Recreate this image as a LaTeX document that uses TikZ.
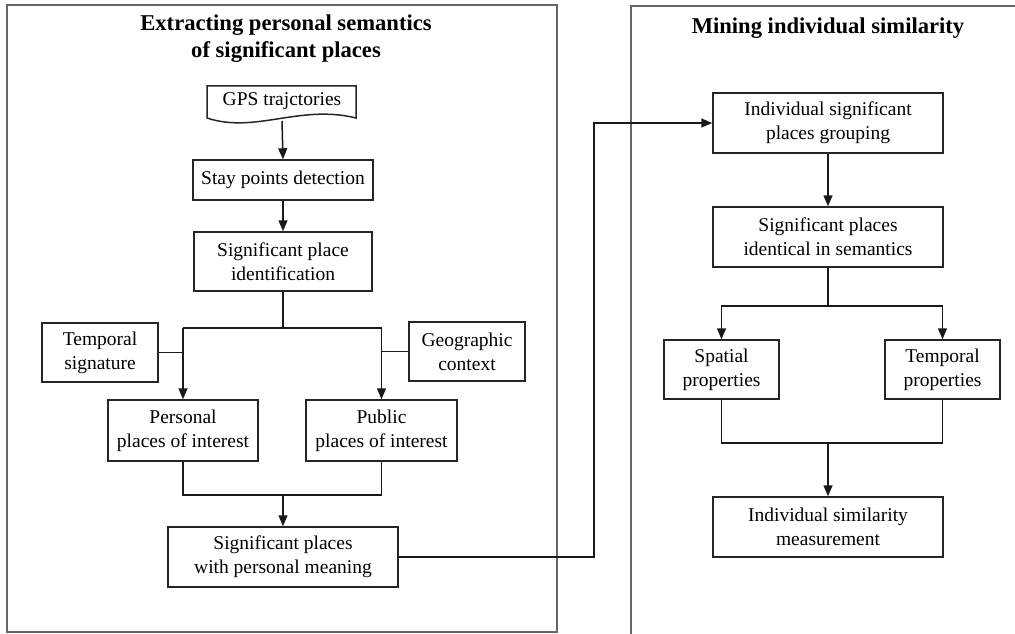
\documentclass[tikz,border=0pt]{standalone}
\usepackage{fontspec}
\setmainfont{Liberation Serif}
\usetikzlibrary{arrows.meta}
\begin{document}
\begin{tikzpicture}[x=1pt,y=-1pt,
  box/.style={draw=black!85, line width=1.5pt, fill=white, align=center, inner sep=0pt,
    font=\fontsize{19.5}{24}\selectfont},
  txt/.style={align=center, inner sep=0pt, font=\fontsize{19.5}{24}\selectfont},
  ttl/.style={align=center, inner sep=0pt, font=\fontsize{22.6}{27}\selectfont\bfseries},
  conn/.style={draw=black!90, line width=1.5pt},
  arr/.style={conn, -{Triangle[length=11pt,width=9pt]}},
  panel/.style={draw=black!60, line width=2pt}]
\useasboundingbox (0,0) rectangle (1015,634);
% panels
\draw[panel] (7,5) rectangle (557,632);
\draw[panel] (631,645) -- (631,6) -- (1030,6);
% titles
\node[ttl] (title1) at (286,39) {Extracting personal semantics\\of significant places};
\node[ttl] (title2) at (828,28) {Mining individual similarity};
% GPS document shape
\draw[draw=black!85, line width=1.5pt, fill=white] (207,86) -- (356,86) -- (356,118)
  .. controls (300,104) and (255,134) .. (207,118) -- cycle;
\node[txt] (gps) at (282,101) {GPS trajctories};
\coordinate (gpsb) at (282,121);
% left boxes
\node[box, minimum width=180pt, minimum height=40pt] (stay) at (283,180) {Stay points detection};
\node[box, minimum width=178pt, minimum height=59pt] (sig) at (283,261.5) {Significant place\\identification};
\node[box, minimum width=116pt, minimum height=59pt] (temp) at (100,352.5) {Temporal\\signature};
\node[box, minimum width=116pt, minimum height=59pt] (geo) at (467,351.5) {Geographic\\context};
\node[box, minimum width=150pt, minimum height=61pt] (pers) at (183,430.5) {Personal\\places of interest};
\node[box, minimum width=151pt, minimum height=61pt] (pub) at (381.5,430.5) {Public\\places of interest};
\node[box, minimum width=230pt, minimum height=60pt] (mean) at (283,557) {Significant places\\with personal meaning};
% right boxes
\node[box, minimum width=230pt, minimum height=60pt] (grp) at (828,123) {Individual significant\\places grouping};
\node[box, minimum width=230pt, minimum height=60pt] (ident) at (828,237) {Significant places\\identical in semantics};
\node[box, minimum width=115pt, minimum height=59pt] (spat) at (721.5,369.5) {Spatial\\properties};
\node[box, minimum width=115pt, minimum height=59pt] (tprop) at (942.5,369.5) {Temporal\\properties};
\node[box, minimum width=230pt, minimum height=60pt] (meas) at (828,527) {Individual similarity\\measurement};
% left connectors
\draw[arr] (gpsb) -- (stay.north);
\draw[arr] (stay.south) -- (sig.north);
\coordinate (j1) at (283,328);
\draw[conn] (sig.south) -- (j1);
\draw[conn] (pers.north |- j1) -- (pub.north |- j1);
\draw[arr] (pers.north |- j1) -- (pers.north);
\draw[arr] (pub.north |- j1) -- (pub.north);
\draw[conn] (temp.east) -- (temp.east -| pers.north);
\draw[conn] (geo.west) -- (geo.west -| pub.north);
\coordinate (j2) at (283,495);
\draw[conn] (pers.south) |- (j2) -| (pub.south);
\draw[arr] (j2) -- (mean.north);
\coordinate (bend) at (594,557);
\draw[arr] (mean.east) -- (bend) |- (grp.west);
% right connectors
\draw[arr] (grp.south) -- (ident.north);
\coordinate (j3) at (828,306);
\draw[conn] (ident.south) -- (j3);
\draw[arr] (j3) -| (spat.north);
\draw[arr] (j3) -| (tprop.north);
\coordinate (j4) at (828,443);
\draw[conn] (spat.south) |- (j4) -| (tprop.south);
\draw[arr] (j4) -- (meas.north);
\end{tikzpicture}
\end{document}
